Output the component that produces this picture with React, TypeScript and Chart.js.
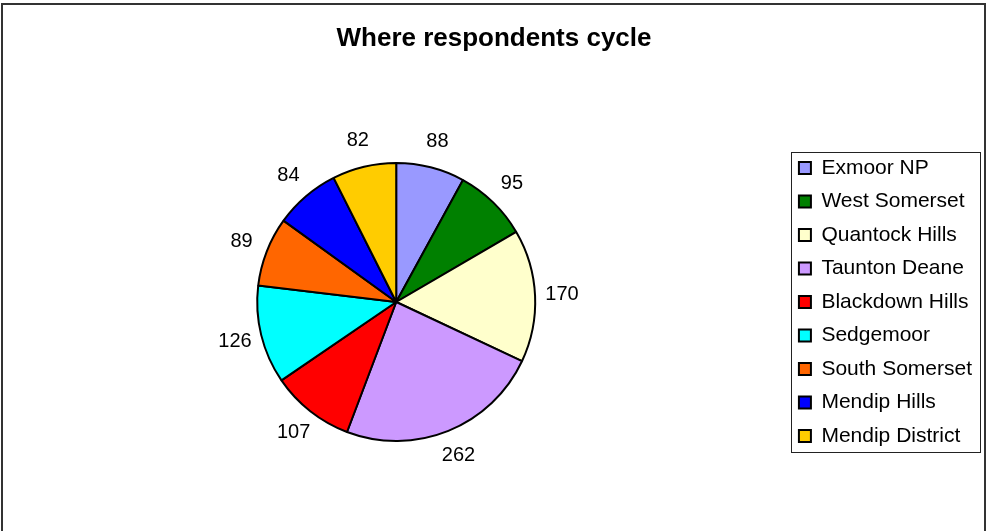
import React, { useEffect, useRef } from 'react';
import { Chart, registerables } from 'chart.js';

Chart.register(...registerables);

const chartTitle = 'Where respondents cycle';
const categories = [
  'Exmoor NP',
  'West Somerset',
  'Quantock Hills',
  'Taunton Deane',
  'Blackdown Hills',
  'Sedgemoor',
  'South Somerset',
  'Mendip Hills',
  'Mendip District',
];
const respondents = [88, 95, 170, 262, 107, 126, 89, 84, 82];
const sliceColors = [
  '#9999FF',
  '#008000',
  '#FFFFCC',
  '#CC99FF',
  '#FF0000',
  '#00FFFF',
  '#FF6600',
  '#0000FF',
  '#FFCC00',
];

const FONT = '"Liberation Sans", Arial, Helvetica, sans-serif';

const valueLabels = {
  id: 'valueLabels',
  afterDatasetsDraw(chart: any) {
    const ctx = chart.ctx;
    const meta = chart.getDatasetMeta(0);
    ctx.save();
    ctx.font = `20px ${FONT}`;
    ctx.fillStyle = '#000';
    ctx.textAlign = 'center';
    ctx.textBaseline = 'middle';
    meta.data.forEach((arc: any, i: number) => {
      const p = arc.getProps(['x', 'y', 'startAngle', 'endAngle', 'outerRadius'], true);
      const mid = (p.startAngle + p.endAngle) / 2;
      const d = p.outerRadius + 27;
      ctx.fillText(
        String(chart.data.datasets[0].data[i]),
        p.x + Math.cos(mid) * d,
        p.y + Math.sin(mid) * d
      );
    });
    ctx.restore();
  },
};

const frames = {
  id: 'frames',
  afterLayout(chart: any) {
    // keep the legend column vertically centred on the plot area
    if (chart.legend && chart.chartArea) {
      chart.legend.top = chart.chartArea.top;
      chart.legend.bottom = chart.chartArea.bottom;
      chart.legend.height = chart.chartArea.bottom - chart.chartArea.top;
    }
  },
  afterDraw(chart: any) {
    const ctx = chart.ctx;
    ctx.save();
    ctx.strokeStyle = '#333';
    ctx.lineWidth = 2;
    ctx.strokeRect(2, 4, 983, 640);
    const lg = chart.legend;
    const hb = lg && lg.legendHitBoxes;
    if (hb && hb.length) {
      const left = hb[0].left - 8;
      const top = hb[0].top - 5.5;
      const last = hb[hb.length - 1];
      const bottom = last.top + last.height + 5.5;
      const right = Math.max(...hb.map((h: any) => h.left + h.width)) + 8;
      ctx.lineWidth = 1;
      ctx.strokeStyle = '#222';
      ctx.strokeRect(
        Math.round(left) + 0.5,
        Math.round(top) + 0.5,
        Math.round(right - left),
        Math.round(bottom - top)
      );
    }
    ctx.restore();
  },
};

export default function App() {
  const ref = useRef<HTMLCanvasElement | null>(null);

  useEffect(() => {
    if (!ref.current) return;
    const chart = new Chart(ref.current, {
      type: 'pie',
      data: {
        labels: categories,
        datasets: [
          {
            data: respondents,
            backgroundColor: sliceColors,
            borderColor: '#000',
            borderWidth: 2,
            radius: 139,
          } as any,
        ],
      },
      options: {
        responsive: false,
        animation: false,
        events: [],
        layout: { padding: { left: 6, right: 6, top: 0, bottom: 18.6 } },
        plugins: {
          title: {
            display: true,
            text: chartTitle,
            color: '#000',
            font: { family: FONT, size: 26, weight: 'bold', lineHeight: 1.2 },
            padding: { top: 23, bottom: 8.4 },
          },
          legend: {
            display: true,
            position: 'right',
            align: 'center',
            labels: {
              boxWidth: 12,
              boxHeight: 12,
              padding: 12.5,
              color: '#000',
              font: { family: FONT, size: 21 },
            },
          },
          tooltip: { enabled: false },
        },
      } as any,
      plugins: [valueLabels, frames],
    });
    return () => chart.destroy();
  }, []);

  return (
    <div
      style={{
        position: 'absolute',
        left: 0,
        top: 0,
        width: 988,
        height: 531,
        overflow: 'hidden',
        background: '#fff',
      }}
    >
      <canvas
        ref={ref}
        width={988}
        height={560}
        style={{ display: 'block', width: 988, height: 560 }}
      />
    </div>
  );
}
